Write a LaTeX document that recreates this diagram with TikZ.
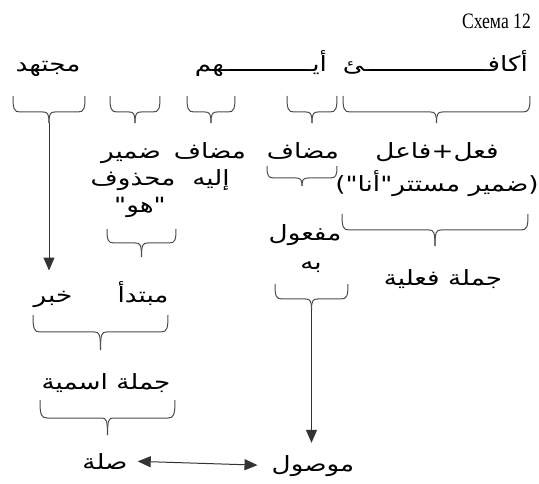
\documentclass[tikz,border=0pt]{standalone}
\usepackage{fontspec}
\setmainfont{Liberation Serif}
\newfontfamily\captionfont[FakeStretch=0.8]{Liberation Serif}
\newfontfamily\arabicfont[Script=Arabic, FakeStretch=1.25]{DejaVu Sans}
\TeXXeTstate=1
\usetikzlibrary{arrows.meta}

% a word stretched with kashida: left piece, drawn line, right piece
\newcommand\kashidaword[3]{\hbox to #1{#2\leaders\hbox to 1pt{\hss ـ\hss}\hfill #3}}

% downward brace: left x, right x, top y, arm height, stem length, tip name
\newcommand\bracedown[6]{%
  \pgfmathsetmacro\bmid{(#1+#2)/2}
  \draw[brace line] (#1,#3) .. controls (#1,#3+0.8*#4) and (#1+1,#3+#4) .. (#1+7,#3+#4)
     -- (\bmid-6,#3+#4) .. controls (\bmid-1.5,#3+#4) and (\bmid,#3+#4+1.5) .. (\bmid,#3+#4+#5);
  \draw[brace line] (#2,#3) .. controls (#2,#3+0.8*#4) and (#2-1,#3+#4) .. (#2-7,#3+#4)
     -- (\bmid+6,#3+#4) .. controls (\bmid+1.5,#3+#4) and (\bmid,#3+#4+1.5) .. (\bmid,#3+#4+#5);
  \coordinate (#6) at (\bmid,#3+#4+#5);
}

\begin{document}
\begin{tikzpicture}[x=1pt,y=-1pt,
  ar/.style={font=\arabicfont\fontsize{21}{24}\selectfont, inner sep=0pt, anchor=base, align=center},
  brace line/.style={draw=black!70, line width=1pt},
  conn/.style={draw=black!80, line width=1pt, -{Triangle[length=13pt,width=11pt]}},
  both/.style={draw=black!80, line width=1pt, {Triangle[length=13pt,width=11pt]}-{Triangle[length=13pt,width=11pt]}}]
\useasboundingbox (0,0) rectangle (539,484);

% caption
\node[font=\captionfont\fontsize{22}{24}\selectfont, inner sep=0pt, anchor=base east] (title) at (531,29) {Схема 12};

% the sentence
\node[ar, anchor=base east] (w1) at (528,72) {\kashidaword{185pt}{ـئ}{أكافـ}};
\node[ar, anchor=base east] (w2) at (327,72) {\kashidaword{132pt}{ـهم}{أيـ}};
\node[ar] (w3) at (48,72) {مجتهد};

% braces under the sentence
\bracedown{343}{530}{96}{16}{11}{t1}
\bracedown{287}{337}{96}{16}{11}{t2}
\bracedown{187}{235}{96}{16}{11}{t3}
\bracedown{110}{160}{96}{16}{11}{t4}
\bracedown{13}{85}{96}{16}{11}{t5}

% parts of the sentence
\node[ar] (damir) at (131,159) {ضمير};
\node[ar] (mahdhuf) at (133,186) {محذوف};
\node[ar] (huwa) at (140,213) {"هو"};
\node[ar] (mudaf1) at (210,159) {مضاف};
\node[ar] (ilayhi) at (211,186) {إليه};
\node[ar] (mudaf2) at (303,159) {مضاف};
\node[ar] (fial) at (437,159) {\beginR فعل+فاعل\endR};
\node[ar] (mustatir) at (437,192) {\beginR(ضمير مستتر"أنا")\endR};

\bracedown{267}{337}{166}{12}{8}{t6}
\bracedown{342}{528}{214}{16}{16}{t7}
\bracedown{107}{176}{229}{14}{14}{t8}

\node[ar] (mafool) at (305,241) {مفعول};
\node[ar] (bihi) at (311,270) {به};
\node[ar] (jumlaf) at (443,286) {\beginR جملة فعلية\endR};

\bracedown{275}{348}{284}{15}{11}{t9}

\node[ar] (khabar) at (53,302) {خبر};
\node[ar] (mubtada) at (143,302) {مبتدأ};

\bracedown{33}{168}{315}{17}{18}{t10}
\node[ar] (jumlai) at (106,389) {\beginR جملة اسمية\endR};
\bracedown{40}{175}{400}{18}{17}{t11}

\node[ar] (sila) at (105,469) {صلة};
\node[ar] (mawsul) at (313,471) {موصول};

% connectors
\draw[conn, shorten >=20pt] (t5) -- (t5 |- khabar.north);
\draw[conn, shorten >=12pt] (t9) -- (t9 |- mawsul.north);
\draw[both, shorten <=10pt, shorten >=14pt] (sila.east) -- (mawsul.west);
\end{tikzpicture}
\end{document}
